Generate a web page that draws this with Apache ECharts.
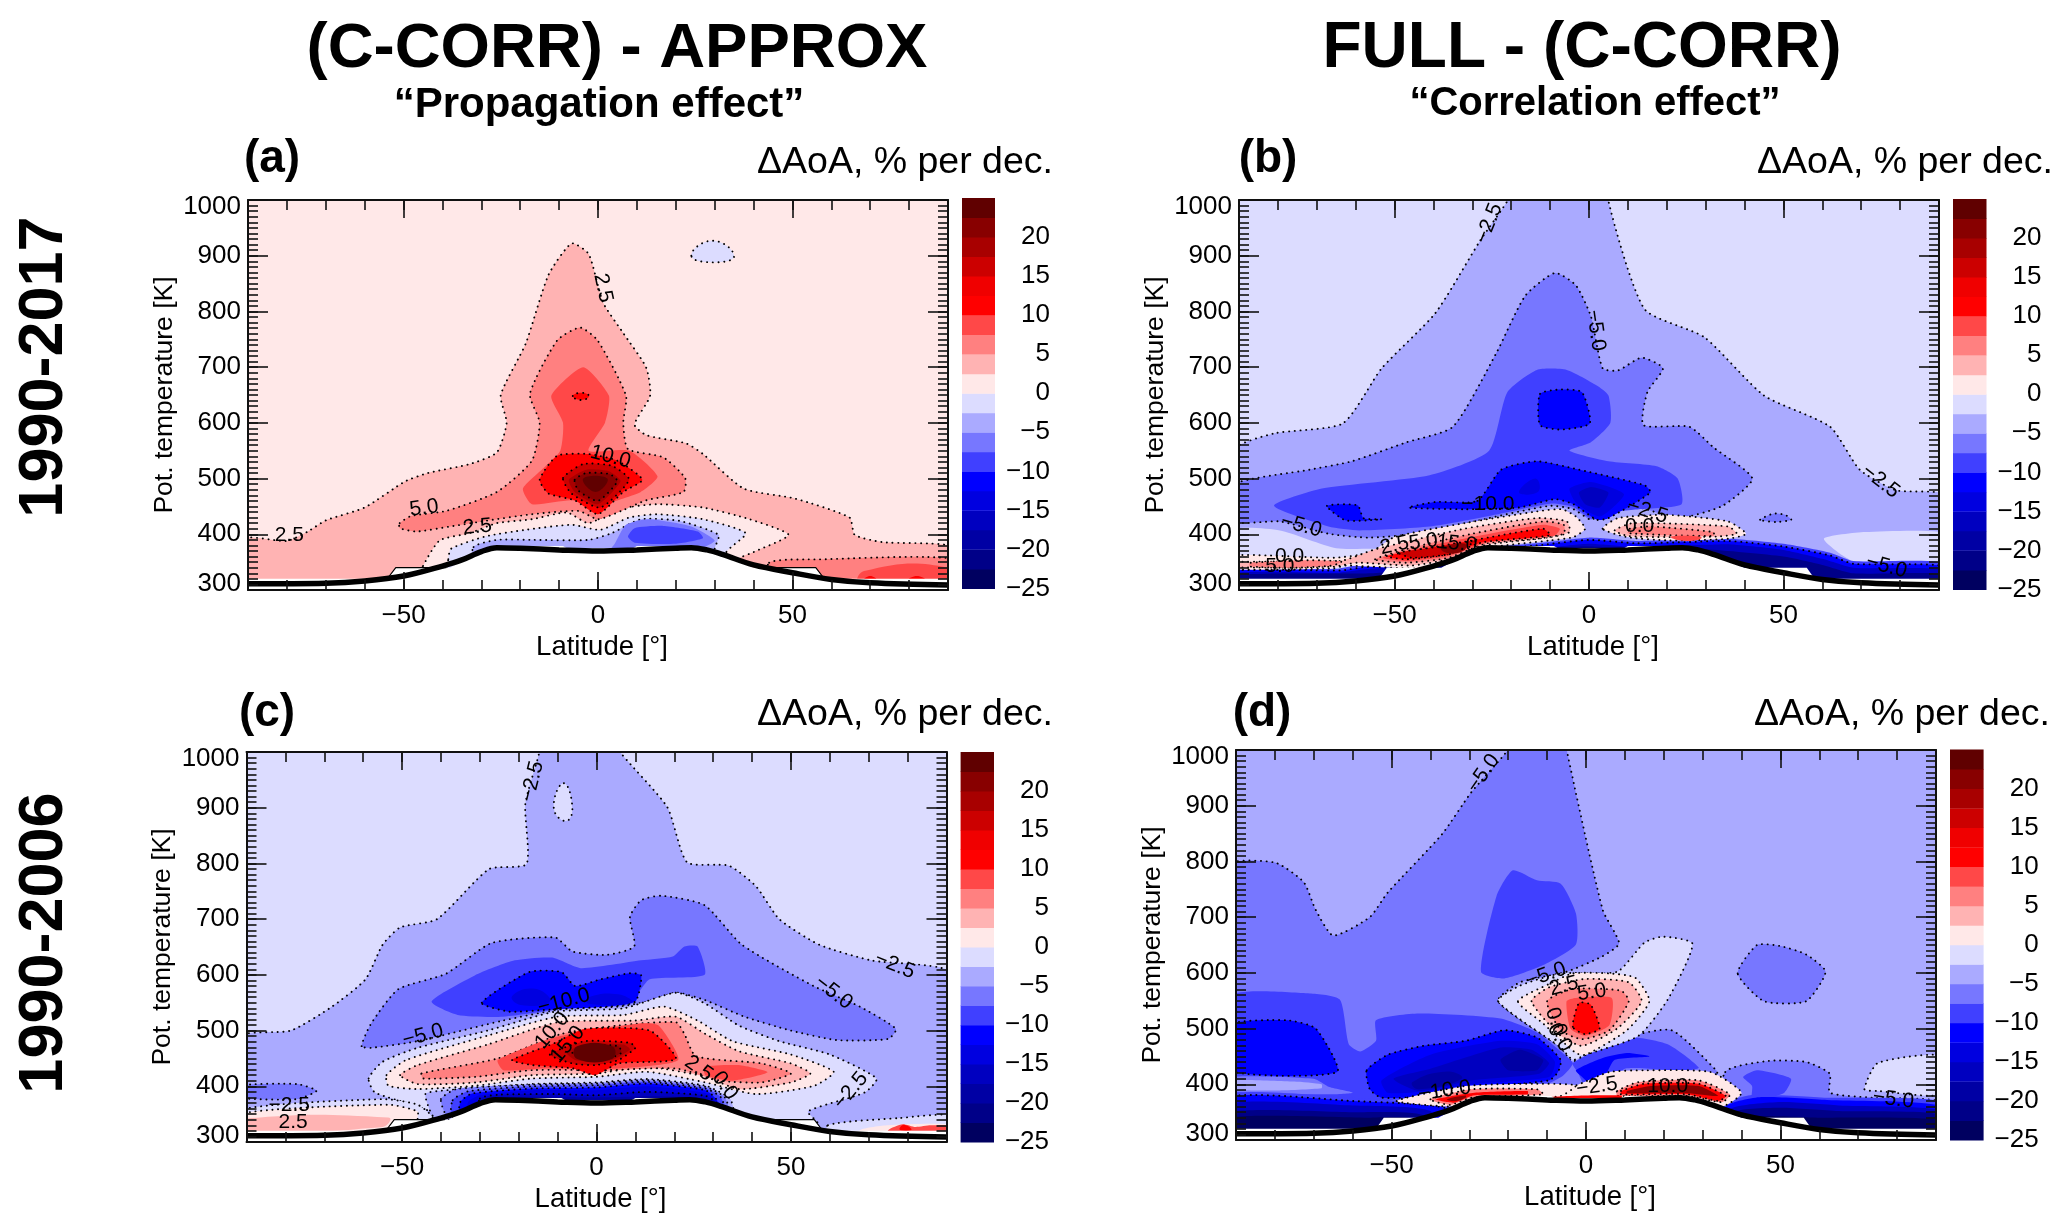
<!DOCTYPE html>
<html><head><meta charset="utf-8">
<style>html,body{margin:0;padding:0;background:#fff}#c{width:2067px;height:1229px}</style>
<script src="https://cdn.jsdelivr.net/npm/echarts@6/dist/echarts.min.js"></script>
</head><body><div id="c"></div>
<script>
// colour scale: lower bound of each band and its colour
const bandLevels=[-25,-22.5,-20,-17.5,-15,-12.5,-10,-7.5,-5,-2.5,0,2.5,5,7.5,10,12.5,15,17.5,20,22.5];
const bandColors=['#000060','#000088','#0000a4','#0000c0','#0000e0','#0000ff','#4040ff','#7777ff','#aaaaff','#dcdcff','#ffe8e8','#ffb3b3','#ff8080','#ff4848','#ff0000','#f00000','#cc0000','#a80000','#880000','#600000'];
const cbTicks=[-25,-20,-15,-10,-5,0,5,10,15,20];
const latTicks=[-50,0,50];
const latMinor=[-90,-80,-70,-60,-50,-40,-30,-20,-10,0,10,20,30,40,50,60,70,80,90];
// tropopause / surface line
const surfaceLat=[-90,-70,-60,-50,-40,-35,-30,-26,-20,-10,0,10,20,24,28,32,40,50,60,70,90];
const surfaceTheta=[311,312,316,325,343,354,369,376,375,372,370,372,375,376,372,364,345,331,319,313,309];
// lower edge of the data field
const floorEdge=[-92,320,-54,320,-52,340,-38,340,-30,370,-26,379,-9,379,-8,375,9,375,10,379,25,379,36,352,40,340,56,340,58,320,92,320,92,290,-92,290];
const floorOutlineL=[[-54,322],[-52,340],[-39,340]];
const floorOutlineR=[[43,340],[56,340],[58,322]];

// filled contours: [band lower bound, contour line drawn?, lat/theta outline]
const contoursA=[
[2.5,1,[-92,392,-80,388,-74.6,405,-70,425,-60,448,-49.6,495,-43.7,510,-33,526,-26,547,-23.5,600,-25,650,-18.6,742,-12.7,866,-6.8,922,-2.4,903,1.3,816,6.5,761,12.4,699,13.4,649,9.4,597,12.4,578,22.7,563,27,544,37.5,482,50.7,464,64.7,430,66,399,73,386,92,376,92,295,-92,295]],
[0,1,[-45,343,-40.7,389,-33,402,-26,420,-17,427,-8,439,-2.4,420,5,445,15,454,27,448,39,427,49,399,40,368,36,355,36,330,-45,330]],
[5,1,[44,349,57,355,92,355,92,295,44,295]],
[7.5,0,[68.4,334,92,337,92,295,68,295]],
[10,0,[68.5,319,70,325,71.5,319]],[10,0,[80,319,82,325,84,319]],
[5,1,[-51,420,-48,433,-39,442,-26,476,-17,532,-15,600,-17.5,652,-10.5,748,-4.6,771,-0.1,748,7.2,649,6.5,600,7.7,553,16.8,538,22.4,501,22,476,12.4,461,6,442,0,427,-5,442,-17,436,-29,424,-38,414,-46.6,405,-51,411]],
[7.5,0,[-12,649,-3.8,700,2.8,649,1.8,600,-2.4,550,8,550,15.3,504,11,476,2,454,0,448,-6.8,461,-17,454,-19.3,482,-14,519,-9.7,550,-9,600]],
[10,1,[-6.5,648,-4.3,654,-2.3,648,-4.3,641]],
[10,1,[-15,498,-10.5,541,-2.4,544,5,532,11.4,498,6.5,476,0,436,-6,461,-12.7,473]],
[15,1,[-9,501,-3.8,526,3.5,523,8,498,0.6,448,-6.8,473]],
[17.5,0,[-7.5,498,-3,516,2.8,513,5.8,495,0,454,-6,476]],
[20,1,[-6,498,-3,510,3,508,5,495,0,460,-5,478]],
[22.5,0,[-3.8,500,2.4,500,-0.6,476]],
[-2.5,1,[-38.5,355,-37.8,374,-29,396,-18.6,408,-6.8,417,0.6,408,8,430,15.3,436,27,427,38,402,33,368,33,330,-38.5,330]],
[-5,1,[-32,377,-26,390,-17,390,-2.4,390,3.5,402,11,427,21,424,31,399,30,374,30,330,-32,330]],
[-7.5,0,[4.3,383,7.2,417,13,427,24,414,30,389,27,377,3.5,374]],
[-10,0,[7.7,396,9.4,411,16.8,415,25.7,405,27,393,19.8,383,9.4,385]],
[-2.5,1,[24,900,29.4,927,35,900,30,888]]
];
const contoursB=[
[-5,1,[-92,548,-81,581,-63.3,599,-53.3,698,-39.5,797,-28,927,-21,998,-20,1020,7,1020,5,998,14.3,804,29.6,754,45,649,62,593,69.6,516,79,479,92,469,92,295,-92,295]],
[-2.5,0,[-92,407,-79.5,407,-65,375,-50,372,-45,340,-92,320]],
[-2.5,0,[60.4,392,71,404,92,402,92,350,68,352]],
[-7.5,1,[-92,488,-71.8,516,-61,531,-47,565,-35,593,-24,723,-16.4,828,-8.8,869,-3.4,847,0.5,791,3.5,698,7.4,694,13.5,717,19,698,15,655,14,596,25.8,593,32,556,42,500,34.3,451,22.8,429,12.8,448,3.5,438,0.5,426,-4,445,-10,451,-25.7,429,-41,404,-56.4,394,-67,401,-79.5,423,-92,423]],
[-10,0,[-81,451,-68.7,482,-41,506,-25.7,550,-21,655,-13.4,695,-5.7,695,2,667,5,649,5.5,600,0.5,565,-5,550,5,531,17.4,522,22.8,500,23.8,454,12.8,445,3.5,438,0.5,428,-4,449,-10,455,-25.7,433,-41,414,-59,407,-67,414]],
[-12.5,1,[-12.6,652,-7.2,660,-1.8,655,0.2,599,-7.2,588,-12.6,596]],
[-12.5,1,[-28.7,460,-22.6,516,-13.4,531,-2.6,516,14.3,488,15.8,475,5,429,2,426,-4,454,-8.8,463,-18,448,-31.8,445,-46.4,448,-39.5,458]],
[-12.5,1,[-67.4,451,-59.5,452,-58,429,-53.3,427,-62.6,425]],
[-15,0,[-18,475,-13.8,500,-13,477]],
[-15,0,[-5,482,0.5,494,9,472,2.8,432,-3.4,457]],
[-17.5,0,[-2.6,475,0.5,485,5,475,2.8,448,-1,454]],
[-7.5,1,[44,426,47.3,437,50.4,435,52,426,48,422]],
[-10,0,[-92,337,-65,338,-60,344,-47,350,-36,356,-28,374,-12,385,0,394,12,388,25,390,36,392,50,383,62,367,68,352,92,348,92,295,-92,295]],
[-12.5,1,[-92,334,-64,335,-58,341,-48,346,-36,352,-28,370,-12,381,0,390,12,384,25,386,36,388,50,378,62,362,68,347,92,342,92,295,-92,295]],
[-17.5,0,[-92,330,-65,331,-58,337,-48,342,-36,347,-10,376,0,383,10,378,30,381,36,382,50,372,60,356,68,340,92,336,92,295,-92,295]],
[-22.5,0,[-92,326,-56,330,-42,340,-34,347,-10,375,0,378,10,375,30,373,50,360,60,345,68,330,92,328,92,295,-92,295]],
[0,1,[-92,362,-65.6,358,-56.4,367,-50,395,-32,420,-13.4,441,-7,445,-3.4,432,-1,410,-4,395,-10,389,-25.7,376,-35,355,-44,339,-62.6,344,-65.6,339,-92,338]],
[2.5,1,[-92,350,-64,352,-55,373,-32,410,-13.4,429,-5.7,423,-5,404,-10,395,-27,380,-36.4,355,-45.6,344,-59.6,349,-65.6,342,-92,341]],
[5,1,[-87,349,-64,352,-67,343,-87,342]],
[5,1,[-55,355,-45.6,376,-30,401,-11.8,423,-6.5,417,-6.5,401,-13.4,392,-27,383,-36,358,-47,349]],
[7.5,0,[-53,358,-47,370,-30,395,-11.8,417,-7.5,410,-8.8,398,-25.7,386,-36,361,-47,352]],
[10,1,[-52,361,-30,389,-11.8,410,-10,398,-27,386,-36.4,364,-47,355]],
[15,1,[-49,367,-36,380,-29,389,-32,376,-36,364,-45.6,358]],
[20,0,[-38,375,-32,383,-32,372,-36,366]],
[0,1,[3.5,410,7.4,429,20,435,35.8,423,40.4,401,35.8,392,20.4,389,9.7,395]],
[2.5,1,[6.6,407,11.2,420,35.8,414,38,401,33,396,20,395,10,397]],
[5,1,[10.5,410,15.8,414,32,404,32,397,10,402]],
[7.5,0,[21,395,25,398,29,394,25,388]]
];
const contoursC=[
[-5,1,[-92,488,-78.6,500,-68,543,-59.4,592,-55,654,-50.5,685,-41,700,-27.6,790,-18,799,-18.3,907,-14.8,997,-14.8,1020,5,1020,6.4,997,18.2,901,23.3,802,34,796,41,759,47,700,57.3,654,70.6,626,92,600,92,295,-92,295]],
[-2.5,1,[-8.4,944,-6.2,898,-8,876,-11,901]],
[-7.5,1,[-60.4,472,-58,512,-51,574,-38.7,602,-27,657,-10.6,667,-6.2,642,2.7,636,9.7,651,8.6,704,11.5,734,16.7,742,27.8,725,37.4,654,55.8,580,67.7,543,77,503,75,485,61.7,483,50,500,38,525,27.8,555,20.4,568,13,552,5.6,543,-7.7,540,-24,518,-46,481,-58,469]],
[-7.5,1,[-92,401,-77,404,-72,392,-77,377,-92,380]],
[-10,0,[-42.4,552,-31.3,599,-21,626,-11.4,631,-4,612,11.5,626,19.6,633,22.6,651,26,651,27.8,600,13.7,592,10.8,568,8,548,-7.7,540,-24,525,-35.7,528]],
[-12.5,1,[-29.5,550,-17.3,605,-9,605,-5.5,580,1,592,8.6,603,11.5,599,10,552,2.7,543,-13.6,537,-22.5,534]],
[-15,0,[-21.7,562,-15.8,575,-12,552,-19.5,546]],
[-15,0,[-2,560,5.6,565,9,550,-2,548]],
[-2.5,1,[-58.6,414,-55,444,-46,469,-28,500,-10.6,534,7,540,20.4,568,27.8,549,36.6,509,47,481,60,457,72,414,69,389,54.4,355,57,333,57,295,-40,295,-40,343,-46,364,-57,389]],
[-2.5,1,[-92,357,-55,377,-46,367,-42,343,-42,300,-92,300]],
[0,1,[-92,350,-53.5,367,-46,355,-46,343,-46,300,-92,300]],
[2.5,0,[-92,341,-53.5,344,-55,327,-92,321]],
[-2.5,1,[59.5,330,78,343,92,347,92,295,60,295]],
[0,0,[67.7,321,75,330,92,330,92,295,67,295]],
[7.5,0,[75,321,78.7,332,82,327,86,330,92,327,92,295,75,295]],
[10,0,[78,322,79,331,81,322]],
[0,1,[-54,420,-49,447,-28,491,-10,525,7,528,17.4,543,26,518,35,481,50,457,61,426,56,401,41,386,28,407,13,426,0,417,-16.5,414,-31,401,-46,395,-53.5,401]],
[2.5,1,[-50.5,420,-46,438,-28,475,-10,515,10,518,20.4,525,28,494,36.6,463,50,441,55,423,50,407,36.6,395,28,417,13,435,0,423,-16.5,420,-31,407,-46,404]],
[5,1,[-45,423,-25.4,450,-9,494,5.6,509,20.4,515,22.6,494,25.6,454,42.5,441,50,423,42.5,407,32,410,20.4,432,2.7,429,-16.5,429,-31,417,-44.6,414]],
[7.5,0,[-25.4,447,-10.6,488,11.5,513,16,509,21,447,5.6,432,-13.6,432,-24,429]],
[7.5,0,[27.8,435,36.6,438,44,425,35,410,28,420]],
[10,1,[-21.7,447,-10.6,478,-3.2,503,13.7,500,20.4,449,5.6,441,-0.3,420,-6,432,-16.5,438]],
[15,1,[-12,457,-3,481,8.6,478,10,469,5.6,447,-0.3,438,-6.2,441]],
[17.5,0,[-7.7,460,-3,476,7,475,8.6,466,4,447,-1,444,-5.5,447]],
[20,1,[-6.2,460,-2.5,474,5.6,472,6.4,460,2.7,449,-3,449]],
[22.5,0,[-5,472,4,472,4,449,-5,449]],
[-5,1,[-44,386,-40,392,-16.5,404,0,407,13,413,28,401,34.4,377,35,340,-38,340,-42,346]],
[-7.5,1,[-40,377,-36,395,-16.5,403,0,405,13,411,28,399,33,380,34,345,-38,345]],
[-10,1,[-37,375,-33,391,-16.5,400,0,402,13,408,28,396,32,380,33,345,-37,345]],
[-12.5,1,[-35,372,-32,387,-16.5,396,0,398,13,405,28,393,31,375,32,345,-35,345]],
[-15,0,[-33,372,-30,384,-16.5,393,0,393,13,400,28,388,31,372,31,345,-33,345]],
[-17.5,1,[-30,378,-25,385,-10,386,0,384,13,390,28,383,31,368,-30,345]],
[-20,0,[-28,376,-15,381,0,380,15,382,28,378,30,365,-30,345]]
];
const contoursD=[
[-7.5,1,[-92,792,-80,798,-72.6,763,-69.5,713,-65,667,-55.6,700,-51,744,-37,849,-29.5,924,-20,1001,-20,1020,-5,1020,-5,1001,4.3,713,8.5,653,4.3,630,-5,602,-17,583,-22.6,549,-6.5,466,-3.4,441,10.5,484,22,497,33.5,425,34,413,36,295,-92,295]],
[-7.5,1,[39,599,44,650,50,648,56.6,633,61.6,602,56.6,549,45.8,549]],
[-7.5,1,[35.8,422,47,442,56.6,440,62.7,419,62.7,385,73.5,376,92,367,92,295,34,295]],
[-2.5,1,[71.6,391,75,438,92,451,92,382,75,388]],
[-10,0,[40.4,413,44,425,52.7,410,51,385,47,376,42.7,373,42.7,397]],
[-10,0,[-27,602,-23,738,-18.8,784,-12.6,766,-6.5,760,-2.6,707,-2.6,651,-11,614,-21,590]],
[-10,0,[-92,557,-71,563,-63.3,552,-61,472,-58,459,-54,478,-54,515,-43,527,-22,518,-12.6,493,-6.5,459,-3.4,438,-6,415,-12,395,-30,380,-50,372,-60,366,-92,365]],
[-7.5,0,[-92,413,-70,410,-66,395,-60,385,-66,382,-92,388]],
[-5,0,[-92,407,-75,405,-68,400,-68,393,-80,389,-92,391]],
[-12.5,1,[-92,506,-77,515,-69.5,500,-64,422,-92,425]],
[-12.5,1,[-56.4,425,-51,453,-41.8,469,-31,478,-21,497,-12.6,484,-6.5,444,-7.2,422,-9.5,407,-31,391,-38.7,379,-52.6,376,-55.6,391]],
[-15,0,[-52.6,407,-40,453,-22,478,-12.6,472,-8,441,-9.5,413,-29.5,400,-40,388,-51,385]],
[-17.5,0,[-49.5,410,-40,428,-22,466,-14,462,-9.5,438,-12,419,-29.5,407,-43,388]],
[-20,0,[-44.6,404,-35.7,423,-32,410,-43,391]],
[-20,0,[-22,444,-17,462,-11,444,-12.6,425,-20,425]],
[-10,0,[-3.4,438,10.5,484,21,472,29,430,25,424,10,428,6,395,0,395,-2,420]],
[-12.5,0,[-2.6,425,4.3,447,10.5,456,16.3,450,7.4,444,5,416,2,397,-1,413]],
[-2.5,1,[-22.6,549,-17,577,-6.5,599,8,602,15,654,19.7,665,27.4,652,21,552,13.5,487,0,453,-3.4,444,-6.5,466]],
[0,1,[-17.5,549,-9.5,580,-3.4,599,6,599,12.7,591,16.3,549,10.5,497,0,453,-2.6,456,-11,509]],
[2.5,1,[-14,549,-9.5,574,-0.3,589,11,583,14.3,549,8,500,-1,469,-7,490]],
[5,1,[-10,549,-3.4,571,9,568,11,549,6,497,-1,481,-6.5,497]],
[7.5,0,[-5,549,-2.6,555,6.6,555,6,506,-0.3,487,-4,500]],
[10,1,[-3.4,503,-1.8,546,1.2,543,3.5,500,-0.3,490]],
[-10,0,[-92,382,-60,376,-40,366,-34,360,-34,295,-92,295]],
[-12.5,1,[-92,377,-60,370,-35,355,-35,295,-92,295]],
[-17.5,0,[-92,365,-60,362,-40,352,-40,295,-92,295]],
[-22.5,0,[-92,350,-60,350,-42,345,-42,295,-92,295]],
[-25,0,[-92,340,-56,340,-45,338,-45,295,-92,295]],
[-10,0,[35,362,43,381,62,376,92,368,92,295,35,295]],
[-12.5,0,[36,360,45,377,62,372,92,360,92,295,36,295]],
[-17.5,0,[37,355,50,368,65,362,92,352,92,295,37,295]],
[-22.5,0,[38,350,50,358,65,352,92,345,92,295,38,295]],
[-25,0,[40,340,60,340,92,335,92,295,40,295]],
[0,1,[-11,385,-2.6,398,6,422,15,425,32,422,40,385,35,360,26,372,0,372,-11,372]],
[0,1,[-48.7,370,-31,397,-12.6,401,-2.6,398,-6.5,379,-20,372,-34,360]],
[5,1,[8,388,13.5,404,29,407,37,382,35,368,26,379,8,379]],
[10,1,[9,388,15,401,29,401,36,379,34,370,26,382,9,382]],
[20,0,[10.5,388,16.6,397,29,397,34,379,26,384,10.5,384]],
[5,1,[-40,373,-29.5,391,-12.6,391,-11,382,-29.5,376,-35,363]],
[10,0,[-38.7,373,-28.7,385,-15,388,-15,382,-29,380,-34,367]],
[20,0,[-35.7,373,-31,380,-31,376,-34,370]],
[10,0,[-12.6,376,9,380,9,375,-12.6,373]]
];
// inline contour labels: [lat, theta, text, tilt in degrees]
const labelsA=[[-79.4,399,'2.5',0],[-44.7,447,'5.0',8],[-31,413,'2.5',5],[3.2,539,'10.0',-15],[1.3,842,'2.5',-78]];
const labelsB=[[-25.7,958,'−2.5',68],[1.7,766,'−5.0',-82],[-26,454,'−10.0',0],[15,441,'−2.5',-18],[13,415,'0.0',0],[-74,415,'−5.0',-15],[75,495,'−2.5',-38],[-50,380,'2.5',12],[-42.6,386,'5.0',8],[-34,383,'15.0',-5],[-77,360,'0.0',0],[-79.5,342,'5.0',0],[76.5,342,'−5.0',-15]];
const labelsC=[[-16.5,947,'−2.5',76],[-44.6,491,'−5.0',15],[-8.4,552,'−10.0',15],[-11.4,500,'10.0',50],[-7.4,475,'15.0',50],[26.3,432,'2.5',-35],[33,401,'0.0',-55],[65.4,392,'−2.5',50],[76.7,617,'−2.5',-22],[61,568,'−5.0',-38],[-79,366,'−2.5',0],[-78,336,'2.5',0]];
const labelsD=[[-26.4,958,'−5.0',55],[-10.3,596,'−5.0',20],[-5.7,576,'2.5',15],[1.5,565,'5.0',8],[-7.7,512,'0.0',-70],[-6.8,484,'0.0',-60],[2.8,396,'−2.5',8],[21,396,'10.0',0],[-36.4,388,'−10.0',8],[79,373,'−5.0',-8]];

const panelNames=['(a)','(b)','(c)','(d)'];
const unitLabel='ΔAoA, % per dec.';
const LAY=[
 {g:[248,200,700,390],cb:[962,198,33,390.5],letter:[272,159],unit:[1053,163],con:contoursA,lab:labelsA,outline:true},
 {g:[1239,200,700,390],cb:[1953,199,33.5,390.5],letter:[1268,159],unit:[2053,163],con:contoursB,lab:labelsB,outline:false},
 {g:[246.5,752,700,390],cb:[960.6,752,33.4,390],letter:[267,713],unit:[1053,715],con:contoursC,lab:labelsC,outline:true},
 {g:[1236,750,700,390],cb:[1950,749.6,33.6,390.4],letter:[1262,713],unit:[2050,715],con:contoursD,lab:labelsD,outline:false}
];
const FONT='"Liberation Sans",Arial,sans-serif';
const minus=v=>String(v).replace('-','−');
const range=(a,b,s)=>{const r=[];for(let v=a;v<=b;v+=s)r.push(v);return r;};
const colorOf=l=>bandColors[bandLevels.indexOf(l)];

const grid=[],xAxis=[],yAxis=[],series=[],title=[];
function hdr(text,x,y,size,weight,align){title.push({text,left:x,top:y,textAlign:align||'center',textVerticalAlign:'middle',padding:0,textStyle:{fontFamily:FONT,fontSize:size,fontWeight:weight,color:'#000'}});}
hdr('(C-CORR) - APPROX',617,49,63.5,'bold');
hdr('FULL - (C-CORR)',1582,49,64,'bold');
hdr('“Propagation effect”',599,105.5,42,'bold');
hdr('“Correlation effect”',1595,103.5,40,'bold');

LAY.forEach((P,i)=>{
  hdr(panelNames[i],P.letter[0],P.letter[1],46,'bold');
  hdr(unitLabel,P.unit[0],P.unit[1],37.5,'normal','right');
  const gi=grid.length;
  grid.push({left:P.g[0],top:P.g[1],width:P.g[2],height:P.g[3],containLabel:false});
  const xBase=xAxis.length,yBase=yAxis.length;
  const xc={type:'value',gridIndex:gi,min:-90,max:90,z:10,splitLine:{show:false},axisLine:{show:false,onZero:false},axisLabel:{show:false},axisTick:{show:false}};
  const yc={type:'value',gridIndex:gi,min:300,max:1000,z:10,splitLine:{show:false},axisLine:{show:false,onZero:false},axisLabel:{show:false},axisTick:{show:false}};
  const frame={show:true,onZero:false,lineStyle:{color:'#111',width:2}};
  const tk=(len,vals)=>({show:true,inside:true,length:len,customValues:vals,lineStyle:{color:'#111',width:1.6}});
  xAxis.push(Object.assign({},xc,{position:'bottom',axisLine:frame,axisTick:tk(18,latTicks),
    axisLabel:{show:true,customValues:latTicks,margin:13,fontFamily:FONT,fontSize:26,color:'#000',formatter:minus},
    name:'Latitude [°]',nameLocation:'middle',nameGap:43,nameTextStyle:{fontFamily:FONT,fontSize:27.5,color:'#000',padding:[0,0,0,8]}}));
  xAxis.push(Object.assign({},xc,{position:'top',axisLine:frame,axisTick:tk(18,latTicks)}));
  xAxis.push(Object.assign({},xc,{position:'bottom',axisTick:tk(10,latMinor)}));
  xAxis.push(Object.assign({},xc,{position:'top',axisTick:tk(10,latMinor)}));
  yAxis.push(Object.assign({},yc,{position:'left',interval:100,axisLine:frame,axisTick:{show:true,inside:true,length:20,lineStyle:{color:'#111',width:1.6}},
    axisLabel:{show:true,margin:7,fontFamily:FONT,fontSize:26,lineHeight:13,color:'#000',formatter:v=>String(v),verticalAlignMinLabel:'bottom',verticalAlignMaxLabel:'top'},
    name:'Pot. temperature [K]',nameLocation:'middle',nameGap:70,nameRotate:90,nameTextStyle:{fontFamily:FONT,fontSize:26.5,color:'#000'}}));
  yAxis.push(Object.assign({},yc,{position:'right',interval:100,axisLine:frame,axisTick:{show:true,inside:true,length:20,lineStyle:{color:'#111',width:1.6}}}));
  yAxis.push(Object.assign({},yc,{position:'left',axisTick:tk(10,range(300,1000,10))}));
  yAxis.push(Object.assign({},yc,{position:'right',axisTick:tk(10,range(300,1000,10))}));
  const C=P.con;
  series.push({type:'custom',coordinateSystem:'cartesian2d',xAxisIndex:xBase,yAxisIndex:yBase,clip:true,z:2,silent:true,animation:false,progressive:0,
    data:[[-90,300,-1]].concat(C.map((p,k)=>[p[2][0],p[2][1],k])),
    renderItem:(params,api)=>{
      const k=api.value(2);
      if(k<0){
        const a=api.coord([-92,1020]),b=api.coord([92,290]);
        return {type:'rect',shape:{x:a[0],y:a[1],width:b[0]-a[0],height:b[1]-a[1]},style:{fill:colorOf(i===3?-5:(i===0?0:-2.5))}};
      }
      const p=C[k],pts=[];
      for(let j=0;j<p[2].length;j+=2)pts.push(api.coord([p[2][j],p[2][j+1]]));
      const st={fill:colorOf(p[0])};
      if(p[1]){st.stroke='#000';st.lineWidth=1.9;st.lineDash=[0.1,5.6];st.lineCap='round';}
      return {type:'polygon',shape:{points:pts,smooth:pts.length>4?0.2:0.5},style:st};
    }});
  // white ground below the data
  series.push({type:'custom',coordinateSystem:'cartesian2d',xAxisIndex:xBase,yAxisIndex:yBase,clip:true,z:3,silent:true,animation:false,
    data:[[-90,300]],
    renderItem:(params,api)=>{const pts=[];for(let j=0;j<floorEdge.length;j+=2)pts.push(api.coord([floorEdge[j],floorEdge[j+1]]));
      return {type:'polygon',shape:{points:pts},style:{fill:'#fff'}};}});
  if(P.outline){[floorOutlineL,floorOutlineR].forEach(d=>series.push({type:'line',xAxisIndex:xBase,yAxisIndex:yBase,data:d,z:4,silent:true,animation:false,showSymbol:false,lineStyle:{color:'#000',width:1.2}}));}
  series.push({type:'line',xAxisIndex:xBase,yAxisIndex:yBase,data:surfaceLat.map((v,k)=>[v,surfaceTheta[k]]),smooth:0.35,z:5,silent:true,animation:false,showSymbol:false,lineStyle:{color:'#000',width:5.5},clip:true});
  // inline contour labels
  series.push({type:'custom',coordinateSystem:'cartesian2d',xAxisIndex:xBase,yAxisIndex:yBase,clip:false,z:6,silent:true,animation:false,
    data:P.lab.map((l,k)=>[l[0],l[1],k]),
    renderItem:(params,api)=>{const l=P.lab[api.value(2)],c=api.coord([l[0],l[1]]);
      return {type:'text',x:c[0],y:c[1],rotation:l[3]*Math.PI/180,style:{text:l[2],font:'21px '+FONT,fill:'#000',align:'center',verticalAlign:'middle'}};}});
  // colour bar
  const gb=grid.length;
  grid.push({left:P.cb[0],top:P.cb[1],width:P.cb[2],height:P.cb[3]});
  const xb=xAxis.length,yb=yAxis.length;
  xAxis.push({type:'value',gridIndex:gb,min:0,max:1,show:false});
  yAxis.push({type:'value',gridIndex:gb,min:-25,max:25,position:'right',splitLine:{show:false},axisLine:{show:false,onZero:false},axisTick:{show:false},
    axisLabel:{show:true,align:'right',margin:55,fontFamily:FONT,fontSize:26,color:'#000',formatter:minus,customValues:cbTicks}});
  series.push({type:'custom',coordinateSystem:'cartesian2d',xAxisIndex:xb,yAxisIndex:yb,silent:true,animation:false,
    data:bandLevels.map((l,k)=>[0,l,k]),
    renderItem:(params,api)=>{const k=api.value(2),a=api.coord([0,bandLevels[k]+2.5]),b=api.coord([1,bandLevels[k]]);
      return {type:'rect',shape:{x:a[0],y:a[1],width:b[0]-a[0],height:b[1]-a[1]+0.4},style:{fill:bandColors[k]}};}});
});

const chart=echarts.init(document.getElementById('c'),null,{width:2067,height:1229,renderer:'canvas'});
chart.setOption({backgroundColor:'#fff',animation:false,title,grid,xAxis,yAxis,series,
  graphic:[
   {type:'text',x:45,y:367,rotation:Math.PI/2,style:{text:'1990-2017',font:'bold 63px '+FONT,fill:'#000',align:'center',verticalAlign:'middle'}},
   {type:'text',x:45,y:943,rotation:Math.PI/2,style:{text:'1990-2006',font:'bold 63px '+FONT,fill:'#000',align:'center',verticalAlign:'middle'}}
  ]});
</script></body></html>
